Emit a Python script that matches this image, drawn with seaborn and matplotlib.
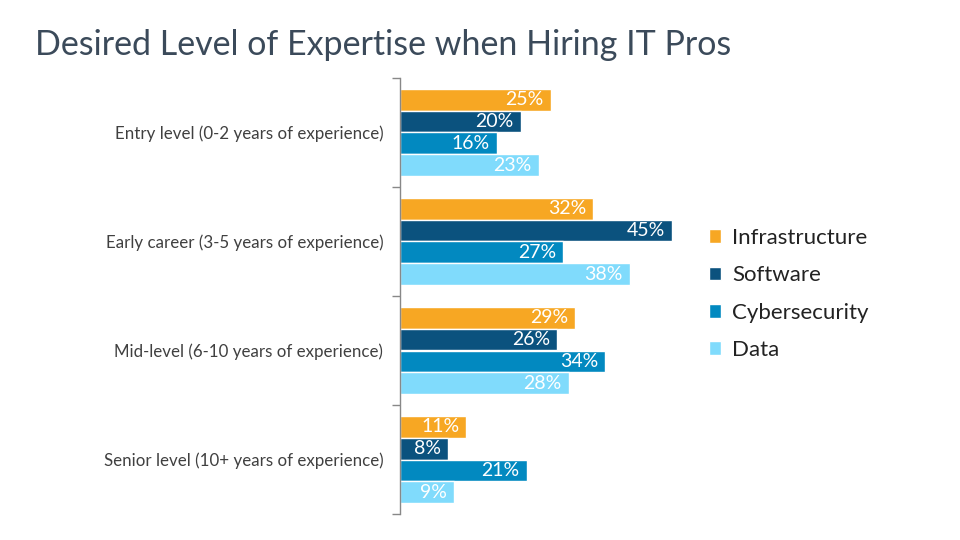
import pandas as pd
import matplotlib.pyplot as plt
import seaborn as sns
from matplotlib.patches import Patch

sns.set_theme(style="white")
plt.rcParams['font.family'] = ['Lato', 'DejaVu Sans']

# Data
levels = [
    'Entry level (0-2 years of experience)',
    'Early career (3-5 years of experience)',
    'Mid-level (6-10 years of experience)',
    'Senior level (10+ years of experience)',
]
series = ['Infrastructure', 'Software', 'Cybersecurity', 'Data']
infrastructure = [25, 32, 29, 11]
software = [20, 45, 26, 8]
cybersecurity = [16, 27, 34, 21]
data_vals = [23, 38, 28, 9]

colors = ['#F7A723', '#0B527E', '#0289C0', '#80DBFC']

df = pd.DataFrame({
    'level': levels * 4,
    'field': [s for s in series for _ in levels],
    'pct': infrastructure + software + cybersecurity + data_vals,
})

fig = plt.figure(figsize=(9.6, 5.4), dpi=100)
ax = fig.add_axes([400 / 960, 1 - 514 / 540, 302 / 960, 436 / 540])

sns.barplot(data=df, y='level', x='pct', hue='field', order=levels,
            hue_order=series, palette=colors, orient='h', width=0.8,
            saturation=1, ax=ax, legend=False, errorbar=None)

ax.set_xlim(0, 50)
ax.set_ylim(3.5, -0.5)
ax.set_xlabel('')
ax.set_ylabel('')
ax.set_xticks([])

# value labels
for container in ax.containers:
    for bar in container:
        w = bar.get_width()
        ax.text(w - 1.2, bar.get_y() + bar.get_height() / 2, f"{w:.0f}%",
                ha='right', va='center', color='white', fontsize=14)

# category ticks: labels centred, tick marks at group boundaries
ax.set_yticks(range(len(levels)))
ax.set_yticklabels(levels, fontsize=12.2, color='#404040')
ax.tick_params(axis='y', which='major', length=0, pad=12)
ax.set_yticks([-0.5, 0.5, 1.5, 2.5, 3.5], minor=True)
ax.tick_params(axis='y', which='minor', length=6, width=1, color='#888888', left=True)

for side in ['top', 'right', 'bottom']:
    ax.spines[side].set_visible(False)
ax.spines['left'].set_color('#888888')
ax.spines['left'].set_linewidth(1)

# legend
handles = [Patch(facecolor=c, label=s) for c, s in zip(colors, series)]
fig.legend(handles=handles, loc='center left', bbox_to_anchor=(709 / 960, 1 - 294 / 540),
           frameon=False, fontsize=16, handlelength=0.55, handleheight=0.55,
           handletextpad=0.5, labelspacing=0.78, borderpad=0, borderaxespad=0,
           labelcolor='#222222')

fig.text(35 / 960, 1 - 45 / 540, 'Desired Level of Expertise when Hiring IT Pros',
         fontsize=24.5, color='#3B4A5A', ha='left', va='center')

fig.savefig('out.png', dpi=100)
